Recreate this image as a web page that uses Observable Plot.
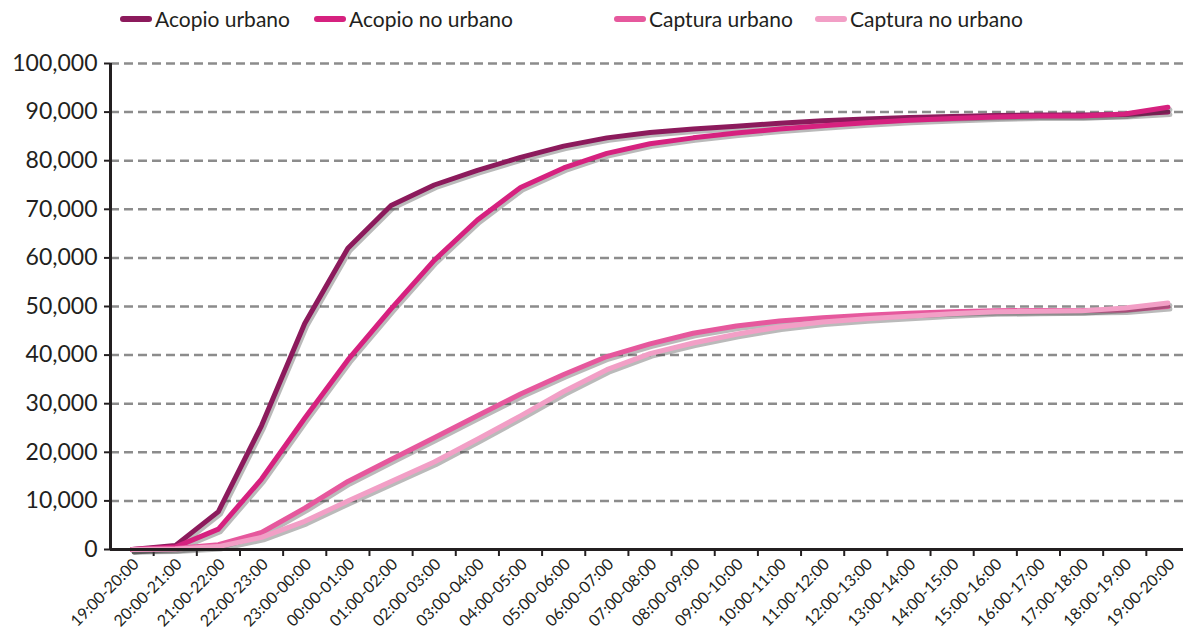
<!DOCTYPE html>
<html>
<head>
<meta charset="utf-8">
<script src="https://cdn.jsdelivr.net/npm/d3@7"></script>
<script src="https://cdn.jsdelivr.net/npm/@observablehq/plot@0.6"></script>
<style>
  html, body { margin: 0; padding: 0; background: #fff; }
  body { width: 1183px; height: 638px; overflow: hidden; font-family: Lato, sans-serif; color: #231f20; }
  #legend { height: 40px; position: relative; }
  .item { position: absolute; top: 6px; display: flex; align-items: center; font-size: 21px; white-space: nowrap; }
  .sw { width: 32px; height: 6px; border-radius: 3px; margin-right: 3px; }
</style>
</head>
<body>
<div id="legend"></div>
<div id="chart"></div>
<script>
const categories = ["19:00-20:00","20:00-21:00","21:00-22:00","22:00-23:00","23:00-00:00","00:00-01:00","01:00-02:00","02:00-03:00","03:00-04:00","04:00-05:00","05:00-06:00","06:00-07:00","07:00-08:00","08:00-09:00","09:00-10:00","10:00-11:00","11:00-12:00","12:00-13:00","13:00-14:00","14:00-15:00","15:00-16:00","16:00-17:00","17:00-18:00","18:00-19:00","19:00-20:00"];
const seriesNames = ["Acopio urbano","Acopio no urbano","Captura urbano","Captura no urbano"];
const seriesColors = ["#8c1a5c","#d6217f","#e6589d","#f29fc6"];
const acopioUrbano = [0,800,7800,25500,46500,62000,70800,75000,78000,80700,83000,84700,85800,86500,87100,87700,88200,88600,88900,89100,89300,89400,89400,89500,90000];
const acopioNoUrbano = [0,500,4200,14500,27000,39000,49500,59500,67800,74500,78500,81500,83500,84700,85700,86500,87200,87800,88300,88700,89000,89200,89200,89600,91000];
const capturaUrbano = [0,200,1000,3500,8500,14000,18500,23000,27500,32000,36000,39700,42300,44500,46000,47000,47700,48200,48600,48900,49100,49200,49200,49300,50000];
const capturaNoUrbano = [0,100,600,2500,5800,10000,14000,18000,22700,27500,32500,37000,40300,42500,44300,45800,46800,47500,48000,48500,48900,49000,49100,49700,50700];
const yTicks = [0,10000,20000,30000,40000,50000,60000,70000,80000,90000,100000];

const seriesValues = [acopioUrbano, acopioNoUrbano, capturaUrbano, capturaNoUrbano];
const idx = categories.map((_, i) => i);
const xDomain = [-0.5, categories.length - 0.5];
const boundaries = idx.map(i => i + 0.5);

// legend
const legend = document.getElementById("legend");
const legendLeft = [120, 314, 614, 815];
seriesNames.forEach((name, k) => {
  const it = document.createElement("div");
  it.className = "item";
  it.style.left = legendLeft[k] + "px";
  it.innerHTML = `<span class="sw" style="background:${seriesColors[k]}"></span><span>${name}</span>`;
  legend.appendChild(it);
});

const marks = [
  Plot.ruleY(yTicks, {stroke: "#8c8c8c", strokeWidth: 2.5, strokeDasharray: "9,5"}),
  Plot.axisY({ticks: yTicks, tickFormat: d3.format(","), tickSize: 6, tickPadding: 7, fontSize: 23, stroke: "#231f20", fill: "#231f20", strokeWidth: 2, label: null}),
  Plot.axisX({ticks: boundaries, tickFormat: () => "", tickSize: 7, stroke: "#231f20", strokeWidth: 2, label: null}),
  Plot.axisX({ticks: idx, tickFormat: i => categories[i], tickSize: 0, tickPadding: 12, tickRotate: -45, fontSize: 16, dx: 4, fill: "#231f20", label: null}),
];
seriesValues.forEach((vals, k) => {
  const data = vals.map((v, i) => ({i, v}));
  marks.push(Plot.line(data, {x: "i", y: "v", stroke: "#3a3a3a", strokeOpacity: 0.35, strokeWidth: 5, dx: 2, dy: 2.5}));
  marks.push(Plot.line(data, {x: "i", y: "v", stroke: seriesColors[k], strokeWidth: 5}));
});
marks.push(Plot.ruleX([xDomain[0]], {stroke: "#231f20", strokeWidth: 3}));
marks.push(Plot.ruleY([0], {stroke: "#231f20", strokeWidth: 3}));

const chart = Plot.plot({
  width: 1183,
  height: 598,
  marginTop: 23,
  marginBottom: 89,
  marginLeft: 110,
  marginRight: -6,
  style: {fontFamily: "Lato, sans-serif", color: "#231f20", background: "#fff", overflow: "visible"},
  x: {type: "linear", domain: xDomain, label: null},
  y: {domain: [0, 100000], label: null},
  marks
});
document.getElementById("chart").appendChild(chart);
</script>
</body>
</html>
